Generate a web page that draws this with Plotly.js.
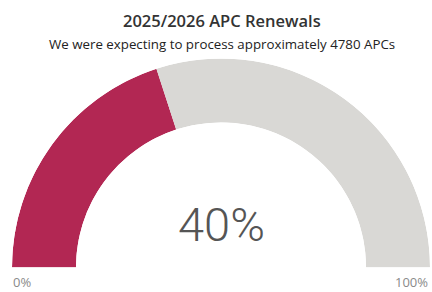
<!DOCTYPE html>
<html><head><meta charset="utf-8">
<script src="https://cdn.plot.ly/plotly-3.0.1.min.js"></script>
<style>html,body{margin:0;padding:0;background:#fff;}#chart{width:432px;height:292px;}</style>
</head><body><div id="chart"></div>
<script>
const title = "2025/2026 APC Renewals";
const subtitle = "We were expecting to process approximately 4780 APCs";
const value = 40;
const minValue = 0;
const maxValue = 100;
const minLabel = "0%";
const maxLabel = "100%";
const valueLabel = "40%";

const frac = (value - minValue) / (maxValue - minValue);
const filledSpan = frac * 180;
const restSpan = 180 - filledSpan;

const data = [
  {type: 'barpolar', r: [1], base: [0], theta: [filledSpan / 2], width: [filledSpan],
   marker: {color: '#B22753', line: {width: 0}}, hoverinfo: 'skip'},
  {type: 'barpolar', r: [1], base: [0], theta: [filledSpan + restSpan / 2], width: [restSpan],
   marker: {color: '#D9D8D5', line: {width: 0}}, hoverinfo: 'skip'}
];

const layout = {
  width: 432, height: 292,
  margin: {l: 0, r: 0, t: 0, b: 0},
  paper_bgcolor: '#fff',
  showlegend: false,
  polar: {
    domain: {x: [12/432, 430/432], y: [1 - 268/292, 1 - 58/292]},
    sector: [0, 180],
    hole: 0.694,
    bgcolor: 'rgba(0,0,0,0)',
    radialaxis: {visible: false, range: [0, 1]},
    angularaxis: {visible: false, rotation: 180, direction: 'clockwise'}
  },
  annotations: [
    {text: title, x: 222/432, y: 1 - 20/292, xref: 'paper', yref: 'paper', showarrow: false,
     xanchor: 'center', yanchor: 'middle', font: {family: 'Open Sans', size: 16.5, color: '#333', weight: 600}},
    {text: subtitle, x: 222/432, y: 1 - 44/292, xref: 'paper', yref: 'paper', showarrow: false,
     xanchor: 'center', yanchor: 'middle', font: {family: 'Open Sans', size: 13.3, color: '#222'}},
    {text: valueLabel, x: 221/432, y: 1 - 224/292, xref: 'paper', yref: 'paper', showarrow: false,
     xanchor: 'center', yanchor: 'middle', font: {family: 'Roboto', size: 47, color: '#555', weight: 300}},
    {text: minLabel, x: 11/432, y: 1 - 282/292, xref: 'paper', yref: 'paper', showarrow: false,
     xanchor: 'left', yanchor: 'middle', font: {family: 'Open Sans', size: 13, color: '#8a8a8a'}},
    {text: maxLabel, x: 430/432, y: 1 - 282/292, xref: 'paper', yref: 'paper', showarrow: false,
     xanchor: 'right', yanchor: 'middle', font: {family: 'Open Sans', size: 13, color: '#8a8a8a'}}
  ]
};

Plotly.newPlot('chart', data, layout, {displayModeBar: false, staticPlot: true});
</script></body></html>
